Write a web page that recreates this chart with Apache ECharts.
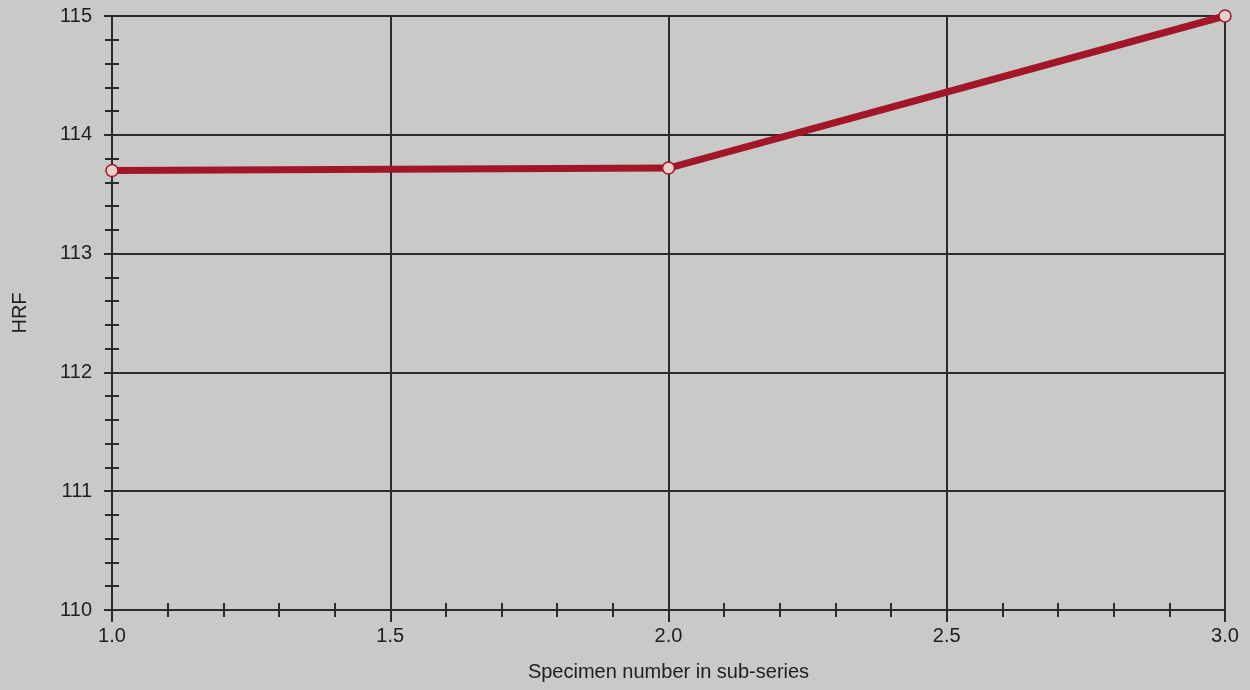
<!DOCTYPE html>
<html>
<head>
<meta charset="utf-8">
<script src="https://cdn.jsdelivr.net/npm/echarts@6/dist/echarts.min.js"></script>
<style>
  html, body { margin: 0; padding: 0; background: #c8cac7; }
  #chart { width: 1250px; height: 690px; }
</style>
</head>
<body>
<div id="chart"></div>
<script>
// specimen number vs hardness
const specimens = [1.0, 2.0, 3.0]
const hrf = [113.7, 113.72, 115.0]

const axisColor = '#2b2b2b'
const textStyle = { color: '#1e1e1e', fontSize: 20, fontFamily: 'Liberation Sans, Arial, sans-serif' }

const chart = echarts.init(document.getElementById('chart'))

// the main axes carry labels + outside ticks, the twins draw the inside half of ticks
function xAxisBase(extra) {
  return Object.assign({
    type: 'value',
    min: 1,
    max: 3,
    interval: 0.5,
    position: 'bottom',
    axisLine: { onZero: false, lineStyle: { color: axisColor, width: 2 } },
    minorTick: { show: true, splitNumber: 5, length: 7, lineStyle: { color: axisColor, width: 2 } },
    splitLine: { show: false },
    minorSplitLine: { show: false }
  }, extra)
}
function yAxisBase(extra) {
  return Object.assign({
    type: 'value',
    min: 110,
    max: 115,
    interval: 1,
    position: 'left',
    axisLine: { onZero: false, lineStyle: { color: axisColor, width: 2 } },
    minorTick: { show: true, splitNumber: 5, length: 7, lineStyle: { color: axisColor, width: 2 } },
    splitLine: { show: false },
    minorSplitLine: { show: false }
  }, extra)
}

chart.setOption({
  backgroundColor: '#c8cac7',
  animation: false,
  grid: {
    left: 112,
    right: 25,
    top: 16,
    bottom: 80,
    show: true,
    borderColor: axisColor,
    borderWidth: 2,
    backgroundColor: 'transparent'
  },
  xAxis: [
    xAxisBase({
      name: 'Specimen number in sub-series',
      nameLocation: 'middle',
      nameGap: 52,
      nameTextStyle: textStyle,
      axisTick: { show: true, length: 12, lineStyle: { color: axisColor, width: 2 } },
      axisLabel: Object.assign({ margin: 16, formatter: v => v.toFixed(1) }, textStyle),
      splitLine: { show: true, lineStyle: { color: axisColor, width: 2 } }
    }),
    xAxisBase({
      axisTick: { show: true, inside: true, length: 7, lineStyle: { color: axisColor, width: 2 } },
      axisLabel: { show: false },
      axisLine: { show: false, onZero: false }
    })
  ],
  yAxis: [
    yAxisBase({
      name: 'HRF',
      nameLocation: 'middle',
      nameGap: 82,
      nameTextStyle: textStyle,
      axisTick: { show: true, length: 8, lineStyle: { color: axisColor, width: 2 } },
      axisLabel: Object.assign({ margin: 20 }, textStyle),
      splitLine: { show: true, lineStyle: { color: axisColor, width: 2 } }
    }),
    yAxisBase({
      axisTick: { show: true, inside: true, length: 7, lineStyle: { color: axisColor, width: 2 } },
      axisLabel: { show: false },
      axisLine: { show: false, onZero: false }
    })
  ],
  series: [{
    type: 'line',
    data: specimens.map((s, i) => [s, hrf[i]]),
    symbol: 'circle',
    symbolSize: 12,
    lineStyle: { color: '#a3162a', width: 7 },
    itemStyle: { color: '#ead0cb', borderColor: '#a3162a', borderWidth: 1.5 },
    z: 5
  }]
})
</script>
</body>
</html>
